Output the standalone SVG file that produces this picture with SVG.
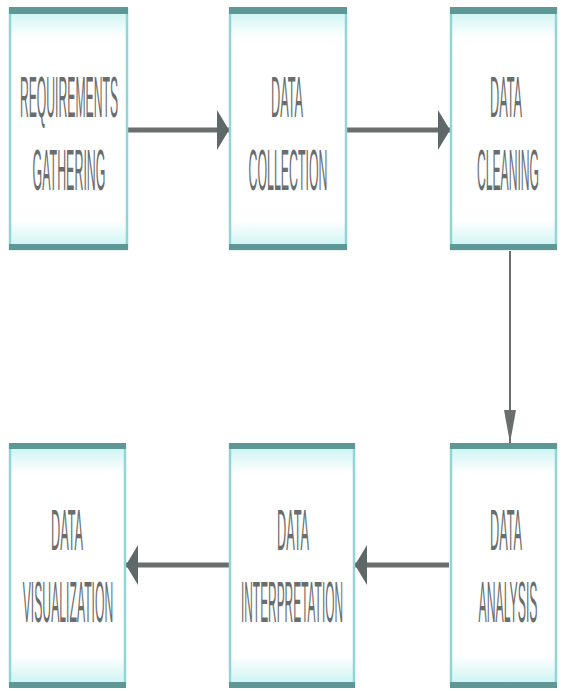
<svg xmlns="http://www.w3.org/2000/svg" width="562" height="691" viewBox="0 0 562 691">
<style>
.box{fill:url(#bg);stroke:#8fd6d4;stroke-width:2.5}
.bar{fill:#5e9896}
.t{font-family:"Liberation Sans",Arial,sans-serif;font-size:57px;fill:#6a6d6d;text-anchor:middle}
.c{stroke:#6a6e6e;fill:none}
</style>
<defs>
<linearGradient id="bg" x1="0" y1="0" x2="0" y2="1">
<stop offset="0" stop-color="#c9f3f2"/>
<stop offset="0.12" stop-color="#ffffff"/>
<stop offset="0.88" stop-color="#ffffff"/>
<stop offset="1" stop-color="#c9f3f2"/>
</linearGradient>
<marker id="ah" viewBox="0 0 12 40" refX="12" refY="20" markerWidth="12" markerHeight="40" markerUnits="userSpaceOnUse" orient="auto">
<path d="M0,0 L12,20 L0,40 Z" fill="#5f6868"/>
</marker>
</defs>
<g id="connectors">
<line class="c" x1="128" y1="130" x2="229" y2="130" stroke-width="5" marker-end="url(#ah)"/>
<line class="c" x1="347" y1="130" x2="450" y2="130" stroke-width="5" marker-end="url(#ah)"/>
<line class="c" x1="510" y1="251" x2="510" y2="443" stroke-width="2"/>
<path d="M504,410 L516,410 L510,443 Z" fill="#6a6e6e"/>
<line class="c" x1="449" y1="565" x2="355" y2="565" stroke-width="5" marker-end="url(#ah)"/>
<line class="c" x1="229" y1="565" x2="126" y2="565" stroke-width="5" marker-end="url(#ah)"/>
</g>
<g id="n1">
<rect class="box" x="10" y="9" width="117" height="240"/>
<rect class="bar" x="9" y="7" width="119" height="7"/>
<rect class="bar" x="9" y="244" width="119" height="6"/>
<text class="t" transform="translate(69,117) scale(0.214,1)">REQUIREMENTS</text>
<text class="t" transform="translate(69,190) scale(0.218,1)">GATHERING</text>
</g>
<g id="n2">
<rect class="box" x="230" y="9" width="116" height="240"/>
<rect class="bar" x="229" y="7" width="118" height="7"/>
<rect class="bar" x="229" y="244" width="118" height="6"/>
<text class="t" transform="translate(287,117) scale(0.224,1)">DATA</text>
<text class="t" transform="translate(288,190) scale(0.217,1)">COLLECTION</text>
</g>
<g id="n3">
<rect class="box" x="451" y="9" width="105" height="240"/>
<rect class="bar" x="450" y="7" width="107" height="7"/>
<rect class="bar" x="450" y="244" width="107" height="6"/>
<text class="t" transform="translate(506,117) scale(0.224,1)">DATA</text>
<text class="t" transform="translate(508,190) scale(0.213,1)">CLEANING</text>
</g>
<g id="n4">
<rect class="box" x="451" y="445" width="105" height="240"/>
<rect class="bar" x="450" y="443" width="107" height="6"/>
<rect class="bar" x="450" y="682" width="107" height="6"/>
<text class="t" transform="translate(506,550) scale(0.224,1)">DATA</text>
<text class="t" transform="translate(508,622) scale(0.215,1)">ANALYSIS</text>
</g>
<g id="n5">
<rect class="box" x="230" y="445" width="124" height="240"/>
<rect class="bar" x="229" y="443" width="126" height="6"/>
<rect class="bar" x="229" y="682" width="126" height="6"/>
<text class="t" transform="translate(293,550) scale(0.224,1)">DATA</text>
<text class="t" transform="translate(292,622) scale(0.209,1)">INTERPRETATION</text>
</g>
<g id="n6">
<rect class="box" x="10" y="445" width="115" height="240"/>
<rect class="bar" x="9" y="443" width="117" height="6"/>
<rect class="bar" x="9" y="682" width="117" height="6"/>
<text class="t" transform="translate(67,550) scale(0.224,1)">DATA</text>
<text class="t" transform="translate(68,622) scale(0.214,1)">VISUALIZATION</text>
</g>
</svg>
